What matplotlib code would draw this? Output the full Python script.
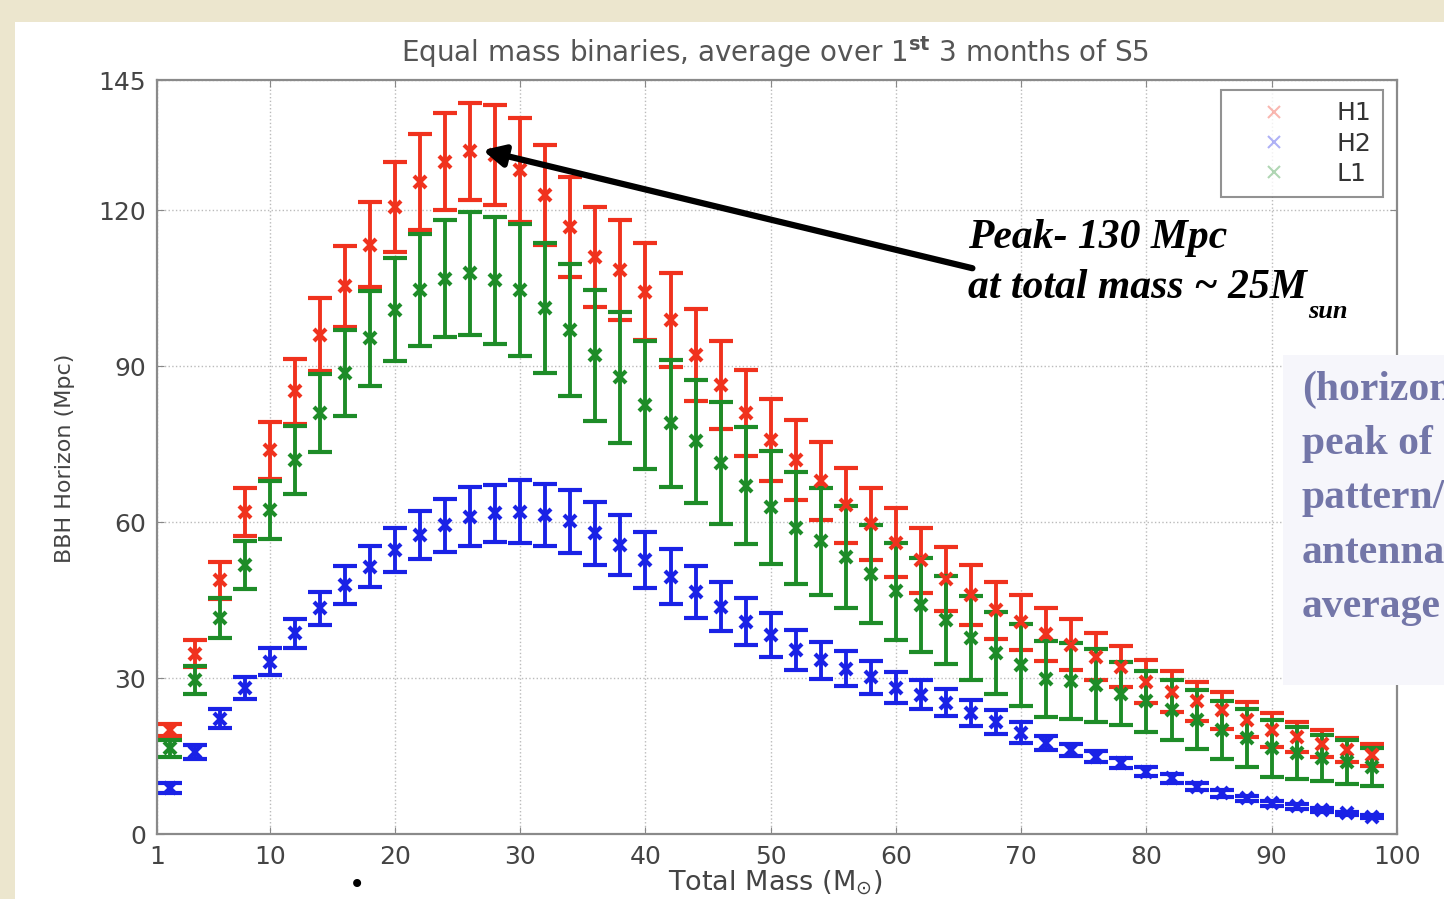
import matplotlib.pyplot as plt
from matplotlib.lines import Line2D
from matplotlib.patches import Rectangle

# total mass (M_sun) for every point
mass = [2, 4, 6, 8, 10, 12, 14, 16, 18, 20, 22, 24, 26, 28, 30, 32, 34,
        36, 38, 40, 42, 44, 46, 48, 50, 52, 54, 56, 58, 60, 62, 64, 66,
        68, 70, 72, 74, 76, 78, 80, 82, 84, 86, 88, 90, 92, 94, 96, 98]

# horizon distance (Mpc) and error for each detector
h1 = [20.0, 34.7, 48.8, 62.0, 73.8, 85.1, 96.0, 105.3, 113.3, 120.6, 125.4,
      129.3, 131.3, 130.5, 127.6, 122.9, 116.8, 111.0, 108.5, 104.3, 98.8,
      92.1, 86.3, 80.9, 75.8, 71.9, 67.9, 63.2, 59.6, 56.0, 52.6, 49.0, 46.0,
      43.0, 40.7, 38.4, 36.4, 34.1, 32.2, 29.3, 27.4, 25.5, 23.8, 22.0, 20.0,
      18.7, 17.4, 16.1, 15.2]
h1_err = [1.2, 2.6, 3.6, 4.6, 5.5, 6.3, 7.0, 7.8, 8.2, 8.7, 9.2, 9.3, 9.3,
          9.6, 10.0, 9.6, 9.6, 9.6, 9.6, 9.3, 9.0, 8.8, 8.5, 8.3, 7.9, 7.7,
          7.5, 7.2, 7.0, 6.6, 6.3, 6.1, 5.8, 5.5, 5.3, 5.1, 4.9, 4.5, 3.9,
          4.2, 4.0, 3.8, 3.6, 3.4, 3.2, 2.9, 2.6, 2.3, 2.1]

h2 = [8.8, 15.8, 22.2, 28.0, 33.1, 38.6, 43.4, 47.9, 51.4, 54.6, 57.5, 59.4,
      61.0, 61.7, 62.0, 61.3, 60.1, 57.8, 55.6, 52.7, 49.5, 46.6, 43.7, 40.8,
      38.3, 35.4, 33.4, 31.8, 30.1, 28.1, 26.8, 25.2, 23.2, 21.5, 19.5, 17.5,
      16.2, 14.9, 13.6, 12.0, 10.7, 9.1, 7.8, 6.9, 5.9, 5.3, 4.6, 4.0, 3.3]
h2_err = [1.0, 1.3, 1.8, 2.1, 2.6, 2.8, 3.2, 3.7, 3.9, 4.3, 4.6, 5.1, 5.7,
          5.5, 6.0, 6.0, 6.1, 6.1, 5.8, 5.4, 5.3, 5.0, 4.7, 4.5, 4.2, 3.8,
          3.5, 3.3, 3.1, 3.0, 2.8, 2.6, 2.5, 2.3, 2.0, 1.4, 1.2, 1.1, 1.0,
          0.9, 0.8, 0.7, 0.6, 0.5, 0.5, 0.4, 0.4, 0.3, 0.3]

l1 = [16.5, 29.6, 41.5, 51.7, 62.3, 71.9, 80.9, 88.6, 95.3, 100.8, 104.6,
      106.8, 107.8, 106.5, 104.6, 101.1, 96.9, 92.1, 87.8, 82.5, 79.0, 75.5,
      71.4, 67.0, 62.8, 58.9, 56.3, 53.3, 50.0, 46.7, 44.0, 41.1, 37.7, 34.8,
      32.5, 29.8, 29.5, 28.6, 27.0, 25.5, 23.8, 22.0, 20.0, 18.4, 16.5, 15.5,
      14.6, 13.9, 12.9]
l1_err = [1.6, 2.7, 3.8, 4.6, 5.5, 6.5, 7.5, 8.3, 9.2, 9.9, 10.7, 11.3, 11.9,
          12.2, 12.7, 12.5, 12.7, 12.6, 12.6, 12.3, 12.2, 11.8, 11.7, 11.2,
          10.9, 10.8, 10.3, 9.8, 9.5, 9.3, 9.0, 8.5, 8.1, 7.9, 7.8, 7.3, 7.3,
          7.0, 6.1, 5.8, 5.8, 5.6, 5.6, 5.6, 5.5, 5.0, 4.5, 4.2, 3.6]

series = [('H1', h1, h1_err, '#F0321E'),
          ('H2', h2, h2_err, '#1A22E6'),
          ('L1', l1, l1_err, '#1E8C28')]

x_ticks = [1, 10, 20, 30, 40, 50, 60, 70, 80, 90, 100]
y_ticks = [0, 30, 60, 90, 120, 145]

W, H = 1444, 899
fig = plt.figure(figsize=(W / 100, H / 100), dpi=100, facecolor='#ECE6CE')

# white slide picture area
fig.patches.append(Rectangle((15 / W, 0), 1, 1 - 22 / H, transform=fig.transFigure,
                             facecolor='white', edgecolor='none', zorder=-10))

ax = fig.add_axes([157 / W, 1 - 834 / H, (1397 - 157) / W, (834 - 80) / H])
ax.set_facecolor('white')

for name, vals, errs, col in series:
    ax.errorbar(mass, vals, yerr=errs, fmt='x', color=col, ecolor=col,
                elinewidth=2.8, capsize=8.5, capthick=2.8, ms=9, mew=3.0)

ax.set_xlim(1, 100)
ax.set_ylim(0, 145)
ax.set_xticks(x_ticks)
ax.set_yticks(y_ticks)
ax.grid(True, linestyle=':', color='#BBBBBB', linewidth=1.0)
ax.set_axisbelow(True)
ax.tick_params(direction='in', length=5, color='#888888', labelcolor='#444444',
               labelsize=18, top=True, right=True, pad=8)
for s in ax.spines.values():
    s.set_color('#8A8A8A')
    s.set_linewidth(1.6)

# legend with faded markers
handles = [Line2D([], [], marker='x', ls='none', color=c, alpha=0.35, ms=9, mew=1.5)
           for _, _, _, c in series]
leg = ax.legend(handles, [s[0] for s in series], loc='upper right',
                bbox_to_anchor=(0.9887, 0.9867), borderaxespad=0, fancybox=False,
                edgecolor='#777777', fontsize=18, handlelength=3.4,
                handletextpad=0.8, labelspacing=0.25, borderpad=0.45)
leg.get_frame().set_linewidth(1.5)
for t in leg.get_texts():
    t.set_color('#333333')

fig.text(775 / W, 1 - 52 / H,
         r'Equal mass binaries, average over 1$^{\mathbf{st}}$ 3 months of S5',
         ha='center', va='center', fontsize=20, color='#555555')
fig.text(65 / W, 1 - 458 / H, 'BBH Horizon (Mpc)', rotation=90,
         ha='center', va='center', fontsize=16, color='#444444')
fig.text(775 / W, 1 - 883 / H, r'Total Mass (M$_{\odot}$)',
         ha='center', va='center', fontsize=19.5, color='#444444')

# peak annotation
ax.annotate('', xy=(27.0, 131.5), xytext=(66.1, 108.8),
            arrowprops=dict(arrowstyle='-|>', lw=4.5, color='black',
                            mutation_scale=32, shrinkA=0, shrinkB=0))
fig.text(968 / W, 1 - 238 / H, 'Peak- 130 Mpc', ha='left', va='center',
         fontsize=30, family='Liberation Serif', style='italic', weight='bold')
t2 = fig.text(968 / W, 1 - 288 / H, 'at total mass ~ 25M', ha='left', va='center',
              fontsize=30, family='Liberation Serif', style='italic', weight='bold')
sub = plt.Annotation('sun', xy=(1, 0), xycoords=t2, xytext=(1, -3),
                     textcoords='offset points', ha='left', va='center',
                     fontsize=19, family='Liberation Serif',
                     style='italic', weight='bold')
sub.set_figure(fig)
fig.texts.append(sub)

# lavender note box on the right, cut by the slide edge
fig.patches.append(Rectangle((1283 / W, 1 - 685 / H), 0.2, (685 - 355) / H,
                             transform=fig.transFigure, facecolor='#F6F6FB',
                             edgecolor='none', zorder=5))
note = ['(horizon', 'peak of', 'pattern/', 'antenna', 'average']
for i, line in enumerate(note):
    fig.text(1302 / W, 1 - (390 + 54.2 * i) / H, line, ha='left', va='center',
             fontsize=30, family='Liberation Serif', weight='bold',
             color='#7376A8', zorder=6)

fig.text(357 / W, 1 - 885 / H, '\u2022', ha='center', va='center',
         fontsize=20, color='black')

fig.savefig('out.png', dpi=100, facecolor=fig.get_facecolor())
